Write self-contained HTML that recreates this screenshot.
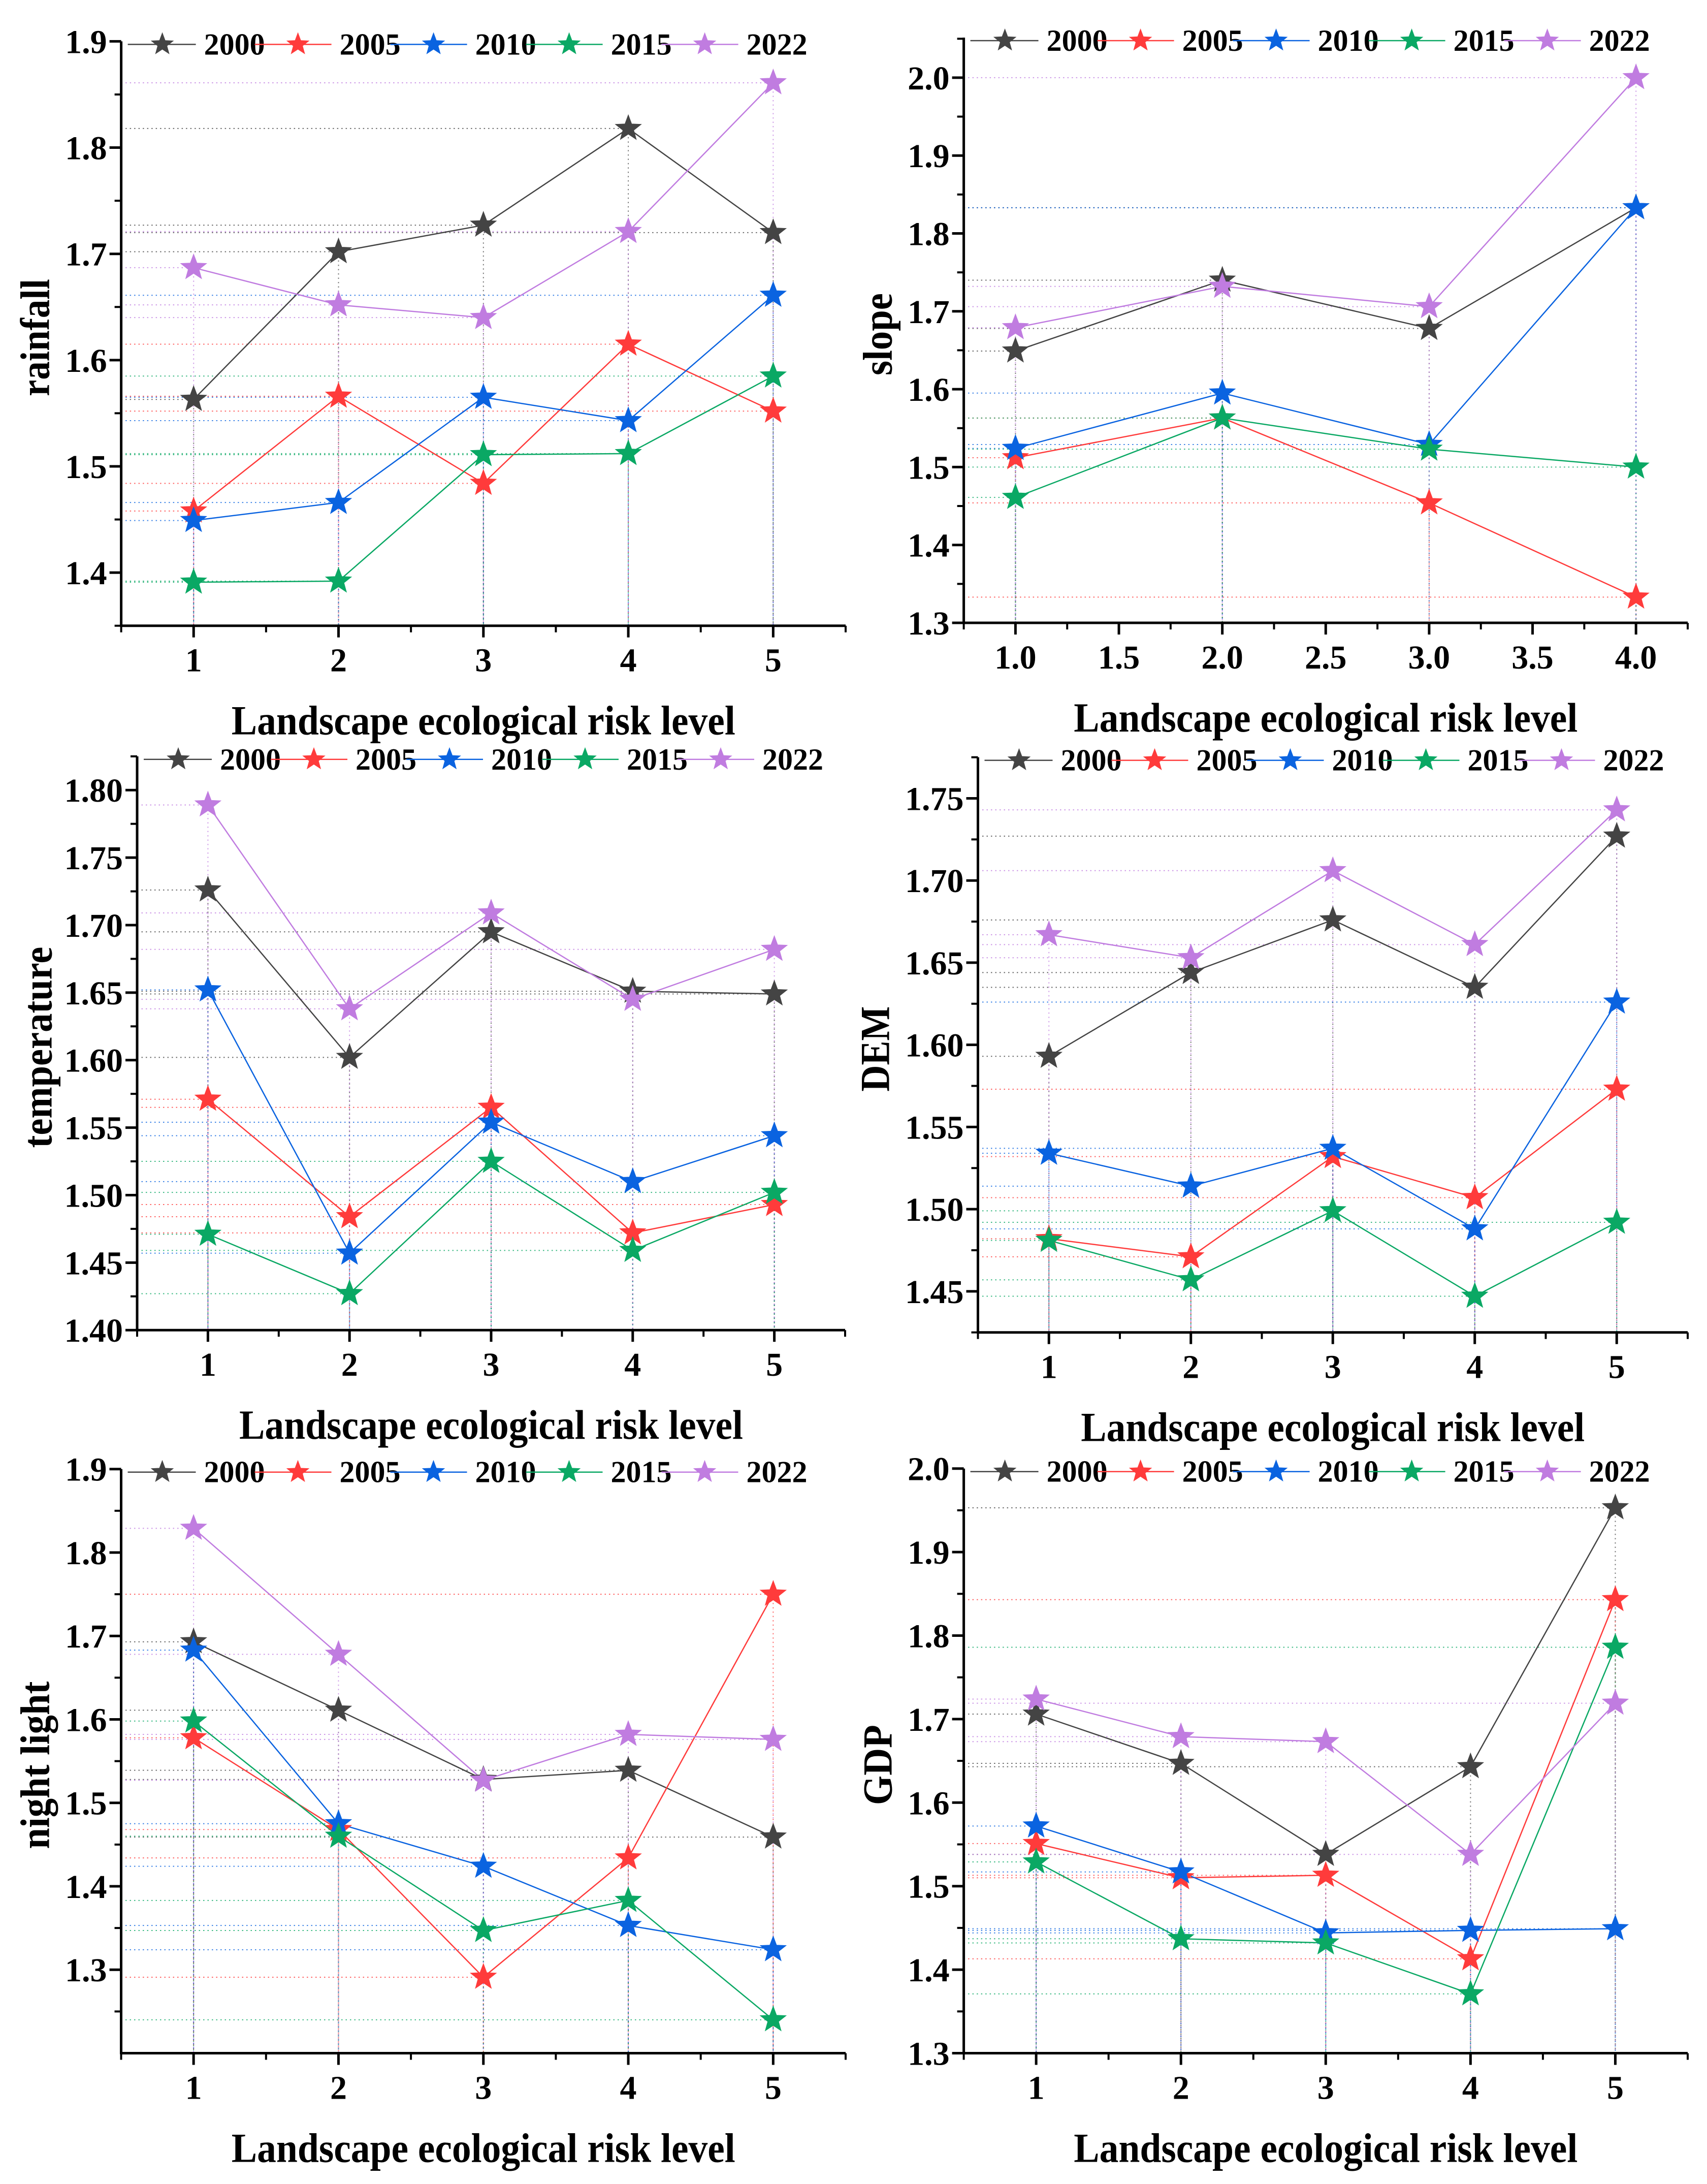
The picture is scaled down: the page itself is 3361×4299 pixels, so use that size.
<!DOCTYPE html>
<html><head><meta charset="utf-8"><style>
html,body{margin:0;padding:0;background:#fff}
svg{display:block}
text{font-family:"Liberation Serif",serif;font-weight:bold;fill:#000}
</style></head>
<body>
<svg id="fig" width="3361" height="4299" viewBox="0 0 3361 4299" xmlns="http://www.w3.org/2000/svg"></svg>
<script>
// ---- data ----
const years = ["2000","2005","2010","2015","2022"];
const colors = ["#444444","#ff3b3b","#0a63e0","#0aa864","#c07ce0"];
const levels5 = [1,2,3,4,5];
const levels4 = [1,2,3,4];
const rain2000 = [1.563,1.702,1.727,1.818,1.720];
const rain2005 = [1.458,1.566,1.484,1.615,1.552];
const rain2010 = [1.449,1.466,1.565,1.543,1.661];
const rain2015 = [1.391,1.392,1.511,1.512,1.585];
const rain2022 = [1.687,1.652,1.640,1.721,1.861];
const slope2000 = [1.649,1.740,1.678,1.833];
const slope2005 = [1.512,1.563,1.454,1.333];
const slope2010 = [1.524,1.595,1.529,1.833];
const slope2015 = [1.461,1.563,1.523,1.500];
const slope2022 = [1.679,1.732,1.706,2.000];
const temp2000 = [1.726,1.602,1.695,1.651,1.649];
const temp2005 = [1.571,1.484,1.565,1.472,1.493];
const temp2010 = [1.652,1.457,1.554,1.510,1.544];
const temp2015 = [1.471,1.427,1.525,1.459,1.502];
const temp2022 = [1.789,1.638,1.709,1.645,1.682];
const dem2000 = [1.593,1.644,1.676,1.635,1.727];
const dem2005 = [1.482,1.471,1.532,1.507,1.573];
const dem2010 = [1.534,1.514,1.537,1.488,1.626];
const dem2015 = [1.481,1.457,1.499,1.447,1.492];
const dem2022 = [1.667,1.653,1.706,1.661,1.743];
const night2000 = [1.693,1.611,1.528,1.539,1.459];
const night2005 = [1.578,1.468,1.291,1.434,1.750];
const night2010 = [1.683,1.475,1.424,1.353,1.324];
const night2015 = [1.598,1.460,1.347,1.383,1.240];
const night2022 = [1.829,1.678,1.527,1.582,1.576];
const gdp2000 = [1.706,1.647,1.538,1.643,1.953];
const gdp2005 = [1.551,1.510,1.513,1.413,1.843];
const gdp2010 = [1.572,1.517,1.444,1.447,1.449];
const gdp2015 = [1.529,1.437,1.432,1.371,1.786];
const gdp2022 = [1.724,1.679,1.673,1.538,1.719];
const ticksA = [1.3,1.4,1.5,1.6,1.7,1.8,1.9,2.0];
const ticksB = [1.40,1.45,1.50,1.55,1.60,1.65,1.70,1.75,1.80];
const xTicksInt = [1,2,3,4,5];
const xTicksHalf = [1.0,1.5,2.0,2.5,3.0,3.5,4.0];

const NS = "http://www.w3.org/2000/svg";
const svg = document.getElementById('fig');
function mk(tag, attrs, parent){
  const e = document.createElementNS(NS, tag);
  for (const k in attrs) e.setAttribute(k, attrs[k]);
  (parent||svg).appendChild(e);
  return e;
}
function starPath(cx, cy, R){
  const r = R*0.42; let d="";
  for(let i=0;i<10;i++){
    const rad = i%2===0?R:r;
    const a = -Math.PI/2 + i*Math.PI/5;
    d += (i===0?"M":"L") + (cx+rad*Math.cos(a)).toFixed(1) + "," + (cy+rad*Math.sin(a)).toFixed(1);
  }
  return d+"Z";
}

function panel(cfg){
  const g = mk('g', {});
  
  
  const X = v => cfg.ax + (v - cfg.xmin)/(cfg.xmax - cfg.xmin)*(cfg.axR - cfg.ax);
  const Y = v => cfg.yB + (v - cfg.ymin)/(cfg.ymax - cfg.ymin)*(cfg.yT - cfg.yB);
  const yBottom = cfg.yB, yTopAxis = cfg.yTopAxis;
  cfg.series.forEach((s, si) => {
    s.forEach((v, i) => {
      const x = X(cfg.xs[i]), y = Y(v);
      const h = mk('line', {x1:cfg.ax, y1:y, x2:x, y2:y, stroke:colors[si], 'stroke-width':2, 'stroke-dasharray':'2.5,6', opacity:0.8}, g);
      
      
      const vl = mk('line', {x1:x, y1:y, x2:x, y2:yBottom, stroke:colors[si], 'stroke-width':2, 'stroke-dasharray':'2.5,6', opacity:0.7}, g);
      
      
    });
  });
  cfg.series.forEach((s, si) => {
    const pts = s.map((v,i)=>X(cfg.xs[i]).toFixed(1)+","+Y(v).toFixed(1)).join(" ");
    const pl = mk('polyline', {points:pts, fill:'none', stroke:colors[si], 'stroke-width':2.5}, g);
    
    
  });
  cfg.series.forEach((s, si) => {
    s.forEach((v,i) => {
      const st = mk('path', {d:starPath(X(cfg.xs[i]), Y(v), 26), fill:colors[si], stroke:colors[si], 'stroke-width':1.5}, g);
      
      
    });
  });
  const ya = mk('line', {x1:cfg.ax, y1:yTopAxis, x2:cfg.ax, y2:yBottom+2, stroke:'#000','stroke-width':5}, g);
  
  
  const xa = mk('line', {x1:cfg.ax-2, y1:yBottom, x2:cfg.axR, y2:yBottom, stroke:'#000','stroke-width':5}, g);
  
  
  const ystep = cfg.yticks[1]-cfg.yticks[0];
  cfg.yticks.forEach(t => {
    if (t < cfg.ymin-1e-9 || t > cfg.ymax+1e-9) return;
    const y = Y(t);
    mk('line', {x1:cfg.ax-23, y1:y, x2:cfg.ax, y2:y, stroke:'#000','stroke-width':5}, g);
    const lb = mk('text', {x:cfg.ax-28, y:y+23, 'font-size':66, 'text-anchor':'end'}, g);
    lb.textContent = t.toFixed(cfg.dec);
    
    
    const m = t + ystep/2;
    if (m <= cfg.ymax+1e-9) { const ym = Y(m); mk('line', {x1:cfg.ax-13, y1:ym, x2:cfg.ax, y2:ym, stroke:'#000','stroke-width':4}, g); }
    const m2 = t - ystep/2;
    if (m2 >= cfg.ymin-1e-9 && t===cfg.yticks.find(q=>q>=cfg.ymin-1e-9)) { const ym = Y(m2); mk('line', {x1:cfg.ax-13, y1:ym, x2:cfg.ax, y2:ym, stroke:'#000','stroke-width':4}, g); }
  });
  const xstep = cfg.xticks[1]-cfg.xticks[0];
  cfg.xticks.forEach(t => {
    const x = X(t);
    mk('line', {x1:x, y1:yBottom, x2:x, y2:yBottom+23, stroke:'#000','stroke-width':5}, g);
    const lb = mk('text', {x:x, y:yBottom+90, 'font-size':66, 'text-anchor':'middle'}, g);
    lb.textContent = cfg.xdec ? t.toFixed(1) : String(t);
    
    
  });
  for (let m = cfg.xmin; m <= cfg.xmax+1e-9; m += xstep/2) {
    if (cfg.xticks.some(t=>Math.abs(t-m)<1e-9)) continue;
    const x = X(m);
    mk('line', {x1:x, y1:yBottom, x2:x, y2:yBottom+13, stroke:'#000','stroke-width':4}, g);
  }
  const xt = mk('text', {x:(cfg.ax+cfg.axR)/2, y:yBottom+214, 'font-size':82, 'text-anchor':'middle', textLength:992, lengthAdjust:'spacingAndGlyphs'}, g);
  xt.textContent = 'Landscape ecological risk level';
  
  
  const ycx = cfg.ytx, ycy = (yTopAxis + yBottom)/2 + 8;
  const yt = mk('text', {x:0, y:0, 'font-size':82, 'text-anchor':'middle', 'dominant-baseline':'central', textLength:cfg.ylen, lengthAdjust:'spacingAndGlyphs', transform:'translate('+ycx+','+ycy+') rotate(-90)'}, g);
  yt.textContent = cfg.ytitle;
  
  
  const ly = yTopAxis + 6;
  years.forEach((yr, i) => {
    const bx = cfg.ax + i*267;
    const lg = mk('g', {}, g);
    
    
    mk('line', {x1:bx+(i===0?13:-4), y1:ly, x2:bx+147, y2:ly, stroke:colors[i], 'stroke-width':2.5}, lg);
    mk('path', {d:starPath(bx+81, ly, 24), fill:colors[i]}, lg);
    const t = mk('text', {x:bx+163, y:ly+20, 'font-size':60}, lg);
    t.textContent = yr;
  });
}

function mkSeries(a,b,c,d,e){ return [a,b,c,d,e]; }

panel({name:'rainfall', ytitle:'rainfall', ylen:231, ytx:69, ax:238.6, axR:1665, xmin:0.5, xmax:5.5, xs:levels5, xticks:xTicksInt, xdec:false,
  ymin:1.35, ymax:1.9, yB:1231.7, yT:81.4, yTopAxis:81.4, yticks:ticksA, dec:1,
  series:mkSeries(rain2000,rain2005,rain2010,rain2015,rain2022)});
panel({name:'slope', ytitle:'slope', ylen:162, ytx:1728, ax:1897.6, axR:3323, xmin:0.75, xmax:4.25, xs:levels4, xticks:xTicksHalf, xdec:true,
  ymin:1.3, ymax:2.05, yB:1226, yT:1226-0.75*1533, yTopAxis:74, yticks:ticksA, dec:1,
  series:mkSeries(slope2000,slope2005,slope2010,slope2015,slope2022)});
panel({name:'temperature', ytitle:'temperature', ylen:396, ytx:74, ax:270, axR:1664, xmin:0.5, xmax:5.5, xs:levels5, xticks:xTicksInt, xdec:false,
  ymin:1.40, ymax:1.825, yB:2618.2, yT:1488.8, yTopAxis:1488.8, yticks:ticksB, dec:2,
  series:mkSeries(temp2000,temp2005,temp2010,temp2015,temp2022)});
panel({name:'dem', ytitle:'DEM', ylen:168, ytx:1723, ax:1925.5, axR:3323, xmin:0.5, xmax:5.5, xs:levels5, xticks:xTicksInt, xdec:false,
  ymin:1.425, ymax:1.775, yB:2622.7, yT:1490.6, yTopAxis:1490.6, yticks:ticksB, dec:2,
  series:mkSeries(dem2000,dem2005,dem2010,dem2015,dem2022)});
panel({name:'night-light', ytitle:'night light', ylen:330, ytx:69, ax:238.5, axR:1665, xmin:0.5, xmax:5.5, xs:levels5, xticks:xTicksInt, xdec:false,
  ymin:1.2, ymax:1.9, yB:4041.5, yT:2891.7, yTopAxis:2891.7, yticks:ticksA, dec:1,
  series:mkSeries(night2000,night2005,night2010,night2015,night2022)});
panel({name:'gdp', ytitle:'GDP', ylen:158, ytx:1728, ax:1897.6, axR:3323, xmin:0.5, xmax:5.5, xs:levels5, xticks:xTicksInt, xdec:false,
  ymin:1.3, ymax:2.0, yB:4041.5, yT:2890.7, yTopAxis:2890.7, yticks:ticksA, dec:1,
  series:mkSeries(gdp2000,gdp2005,gdp2010,gdp2015,gdp2022)});
</script>
</body></html>
